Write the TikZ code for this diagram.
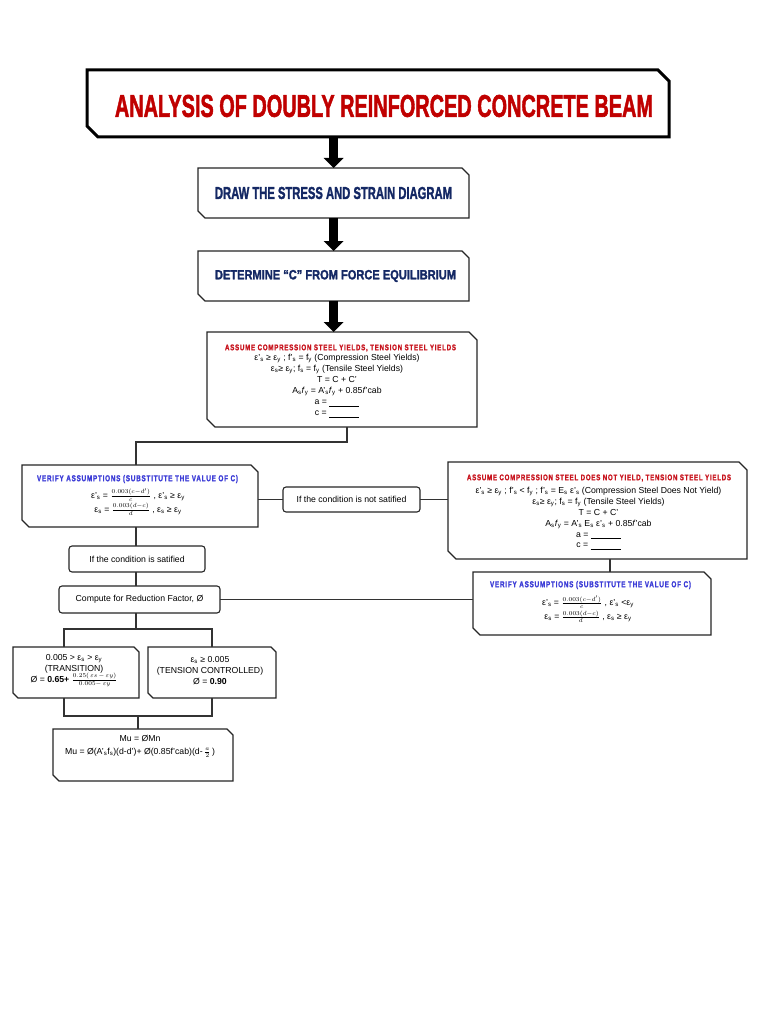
\documentclass[tikz,border=0pt]{standalone}
\usepackage{graphicx}
\usepackage{fontspec}
\setmainfont{Liberation Sans}
\newfontfamily\headfont[LetterSpace=12,BoldFeatures={FakeBold=1.5}]{Liberation Sans}
\newfontfamily\capfont[BoldFeatures={FakeBold=2}]{Liberation Sans}
\usetikzlibrary{arrows.meta}
\definecolor{titlered}{RGB}{192,0,0}
\definecolor{headred}{RGB}{200,20,30}
\definecolor{navy}{RGB}{20,40,100}
\definecolor{headblue}{RGB}{60,60,215}
\newcommand\bodyfont{\fontsize{8.7}{10.9}\selectfont}
\newcommand\subsc[1]{\textsubscript{#1}}
\newcommand\chbox[7]{%
  \node[inner sep=0pt, outer sep=0pt, minimum width={(#4-#2)*1pt}, minimum height={(#5-#3)*1pt}] (#1) at ({(#2+#4)/2},{(#3+#5)/2}) {};
  \draw[#7] (#1.north west) -- ([xshift=-#6pt]#1.north east) -- ([yshift=-#6pt]#1.north east) -- (#1.south east) -- ([xshift=#6pt]#1.south west) -- ([yshift=#6pt]#1.south west) -- cycle;
}
\begin{document}
\begin{tikzpicture}[x=1pt,y=-1pt,
  boxline/.style={draw=black!85, line width=1.3pt, fill=white},
  titleline/.style={draw=black, line width=3pt, fill=white, line join=miter},
  rbox/.style={draw=black!85, line width=1.1pt, rounded corners=3pt, fill=white, inner sep=0pt, outer sep=0pt, font=\bodyfont},
  conn/.style={draw=black!80, line width=1.1pt},
  bigarrow/.style={line width=9pt, -{Triangle[width=20pt,length=10pt,line width=0pt]}},
  txt/.style={inner sep=0pt, outer sep=0pt, align=center, font=\bodyfont}
]
\useasboundingbox[fill=white] (0,0) rectangle (768,1024);

% title
\chbox{title}{87}{70}{669}{137}{11}{titleline}
\node[txt] (ttext) at (384,106) {\resizebox{538pt}{22pt}{\capfont\bfseries\color{titlered}ANALYSIS OF DOUBLY REINFORCED CONCRETE BEAM}};

% box 2 and 3
\chbox{b2}{198}{168}{469}{218}{7}{boxline}
\node[txt] (b2text) at (333.5,193) {\resizebox{237pt}{12pt}{\capfont\bfseries\color{navy}DRAW THE STRESS AND STRAIN DIAGRAM}};
\chbox{b3}{198}{251}{469}{301}{7}{boxline}
\node[txt] (b3text) at (335.5,276) {\resizebox*{241pt}{12pt}{\capfont\bfseries\color{navy}DETERMINE “C” FROM FORCE EQUILIBRIUM}};

% box 4
\chbox{b4}{207}{332}{477}{427}{8}{boxline}
\node[txt] (b4head) at (340.5,348) {\resizebox*{231pt}{7pt}{\headfont\bfseries\color{headred}ASSUME COMPRESSION STEEL YIELDS, TENSION STEEL YIELDS}};
\node[txt] (b4body) at (337,386) {ε'\subsc{s} ≥ ε\subsc{y} ; f'\subsc{s} = f\subsc{y} (Compression Steel Yields)\\
ε\subsc{s}≥ ε\subsc{y}; f\subsc{s} = f\subsc{y} (Tensile Steel Yields)\\
T = C + C'\\
A\subsc{s}\textit{f}\subsc{y} = A'\subsc{s}\textit{f}\subsc{y} + 0.85\textit{f}'cab\\
a = \underline{\hspace{30pt}}\\
c = \underline{\hspace{30pt}}};

% box 5
\chbox{b5}{22}{465}{258}{527}{7}{boxline}
\node[txt] (b5head) at (137.5,479) {\resizebox*{201pt}{8pt}{\headfont\bfseries\color{headblue}VERIFY ASSUMPTIONS (SUBSTITUTE THE VALUE OF C)}};
\node[txt] (b5body) at (138,502) {ε'\subsc{s} = $\frac{0.003(c-d')}{c}$ , ε'\subsc{s} ≥ ε\subsc{y}\\[1pt]
ε\subsc{s} = $\frac{0.003(d-c)}{d}$ , ε\subsc{s} ≥ ε\subsc{y}};

% not satisfied
\node[rbox, minimum width=137pt, minimum height=25pt] (ns) at (351.5,499.5) {If the condition is not satified};

% box 6
\chbox{b6}{448}{462}{747}{559}{8}{boxline}
\node[txt] (b6head) at (599,478) {\resizebox*{264pt}{7pt}{\headfont\bfseries\color{headred}ASSUME COMPRESSION STEEL DOES NOT YIELD, TENSION STEEL YIELDS}};
\node[txt] (b6body) at (598.5,518.5) {ε'\subsc{s} ≥ ε\subsc{y} ; f'\subsc{s} < f\subsc{y} ; f'\subsc{s} = E\subsc{s} ε'\subsc{s} (Compression Steel Does Not Yield)\\
ε\subsc{s}≥ ε\subsc{y}; f\subsc{s} = f\subsc{y} (Tensile Steel Yields)\\
T = C + C'\\
A\subsc{s}\textit{f}\subsc{y} = A'\subsc{s} E\subsc{s} ε'\subsc{s} + 0.85\textit{f}'cab\\
a = \underline{\hspace{30pt}}\\
c = \underline{\hspace{30pt}}};

% box 7
\chbox{b7}{473}{572}{711}{635}{7}{boxline}
\node[txt] (b7head) at (590.5,585) {\resizebox*{201pt}{8pt}{\headfont\bfseries\color{headblue}VERIFY ASSUMPTIONS (SUBSTITUTE THE VALUE OF C)}};
\node[txt] (b7body) at (588,609.5) {ε'\subsc{s} = $\frac{0.003(c-d')}{c}$ , ε'\subsc{s} <ε\subsc{y}\\[1pt]
ε\subsc{s} = $\frac{0.003(d-c)}{d}$ , ε\subsc{s} ≥ ε\subsc{y}};

% satisfied and compute
\node[rbox, minimum width=136pt, minimum height=26pt] (sat) at (137,559) {If the condition is satified};
\node[rbox, minimum width=161pt, minimum height=27pt] (cf) at (139.5,599.5) {Compute for Reduction Factor, Ø};

% boxes 8, 9
\chbox{b8}{13}{647}{139}{698}{5}{boxline}
\node[txt] (b8body) at (74,670.5) {0.005 > ε\subsc{s} > ε\subsc{y}\\
(TRANSITION)\\
Ø = \textbf{0.65+} $\frac{0.25(\,\varepsilon s\,-\,\varepsilon y)}{0.005-\,\varepsilon y}$};
\chbox{b9}{148}{647}{276}{698}{5}{boxline}
\node[txt] (b9body) at (210,670.5) {ε\subsc{s} ≥ 0.005\\
(TENSION CONTROLLED)\\
Ø = \textbf{0.90}};

% box 10
\chbox{b10}{53}{729}{233}{781}{6}{boxline}
\node[txt] (b10body) at (140,746) {Mu = ØMn\\[2pt]
Mu = Ø(A'\subsc{s}f\subsc{s})(d-d')+ Ø(0.85f'cab)(d-\,$\frac{a}{2}$\,)};

% thick arrows
\draw[bigarrow] (b2.north |- title.south) -- (b2.north);
\draw[bigarrow] (b2.south) -- (b3.north);
\draw[bigarrow] (b3.south) -- (b3.south |- b4.north);

% connectors
\coordinate (spine) at (136,0);
\coordinate (c1) at (347,442);
\coordinate (c6) at (610,0);
\coordinate (L) at (64,629);
\coordinate (R) at (212,629);
\coordinate (L2) at (64,716);
\coordinate (R2) at (212,716);
\coordinate (M2) at (138,716);
\draw[conn] (b4.south -| c1) -- (c1) -| (b5.north -| spine);
\draw[conn] (b5.south -| spine) -- (sat.north -| spine);
\draw[conn] (sat.south -| spine) -- (cf.north -| spine);
\draw[conn] (ns.west -| b5.east) -- (ns.west);
\draw[conn] (ns.east) -- (ns.east -| b6.west);
\draw[conn] (b6.south -| c6) -- (b7.north -| c6);
\draw[conn] (cf.east) -- (cf.east -| b7.west);
\draw[conn] (cf.south -| spine) -- (spine |- L);
\draw[conn] (b8.north -| L) -- (L) -- (R) -- (b9.north -| R);
\draw[conn] (b8.south -| L2) -- (L2) -- (R2) -- (b9.south -| R2);
\draw[conn] (M2) -- (b10.north -| M2);
\end{tikzpicture}
\end{document}
